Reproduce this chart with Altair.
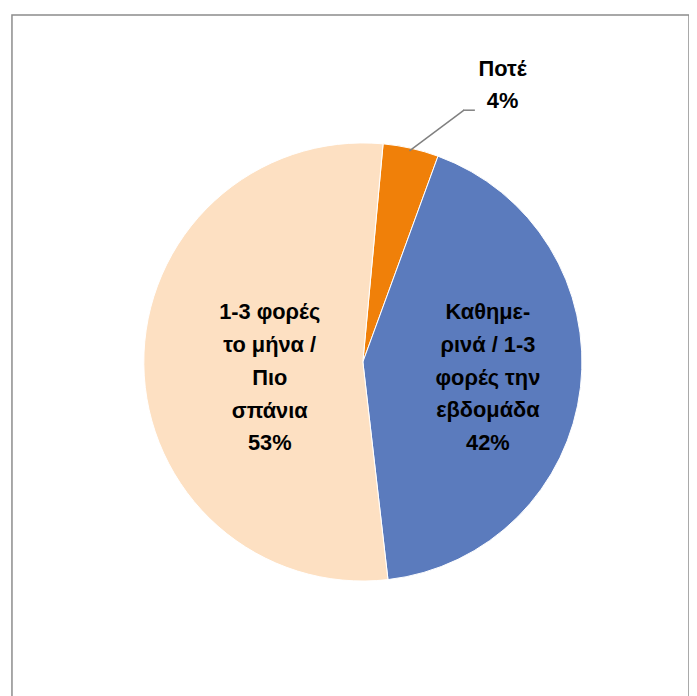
import altair as alt
import pandas as pd
import math

categories = ["Ποτέ", "Καθημερινά / 1-3 φορές την εβδομάδα", "1-3 φορές το μήνα / Πιο σπάνια"]
label_text = ["Ποτέ\n4%", "Καθημε-\nρινά / 1-3\nφορές την\nεβδομάδα\n42%", "1-3 φορές\nτο μήνα /\nΠιο\nσπάνια\n53%"]
values = [4.1, 42.6, 53.3]
rank = [1, 2, 3]
colors = ["#F08009", "#5B7BBD", "#FDE0C2"]

df = pd.DataFrame({"cat": categories, "value": values, "rank": rank, "label": label_text})

start = math.radians(5.3)
theta_scale = alt.Scale(domain=[0, 100], range=[start, start + 2 * math.pi])
CX, CY = 354, 350
FONT = "Liberation Sans"

pie = alt.Chart(df).mark_arc(outerRadius=221, stroke="white", strokeWidth=1).encode(
    theta=alt.Theta("value:Q", stack=True, scale=theta_scale),
    order=alt.Order("rank:Q"),
    color=alt.Color("cat:N", scale=alt.Scale(domain=categories, range=colors), legend=None),
    x=alt.value(CX), y=alt.value(CY),
)

def lbl(cat, radius, dy, dx=0):
    return alt.Chart(df).transform_stack(
        stack="value", groupby=[], as_=["v0", "v1"], sort=[alt.SortField("rank", order="ascending")]
    ).transform_calculate(
        mid="(datum.v0 + datum.v1) / 2"
    ).transform_filter(alt.datum.cat == cat).mark_text(
        radius=radius, font=FONT, fontSize=22, fontWeight="bold", lineBreak="\n",
        lineHeight=33, align="center", baseline="middle", color="#000000", dy=dy, dx=dx,
    ).encode(
        theta=alt.Theta("mid:Q", scale=theta_scale),
        text="label:N", x=alt.value(CX), y=alt.value(CY),
    )

t_blue = lbl(categories[1], 127, -65)
t_peach = lbl(categories[2], 94, -51)
t_orange = lbl(categories[0], 250, -52, 86)

leader = alt.Chart(pd.DataFrame({"k": [0]})).mark_rule(color="#808080", strokeWidth=1.5).encode(
    x=alt.value(401), y=alt.value(137), x2=alt.value(456), y2=alt.value(96)
)
leader2 = alt.Chart(pd.DataFrame({"k": [0]})).mark_rule(color="#808080", strokeWidth=1.5).encode(
    x=alt.value(455), y=alt.value(96), x2=alt.value(467), y2=alt.value(96)
)

chart = alt.layer(pie, leader, leader2, t_blue, t_peach, t_orange).properties(
    width=683, height=700,
    padding={"left": 4, "top": 4, "right": 0, "bottom": 0},
).configure_view(stroke="#8c8c8c", strokeWidth=1.5)

chart.save("out.html", embed_options={"renderer": "svg", "actions": False})
